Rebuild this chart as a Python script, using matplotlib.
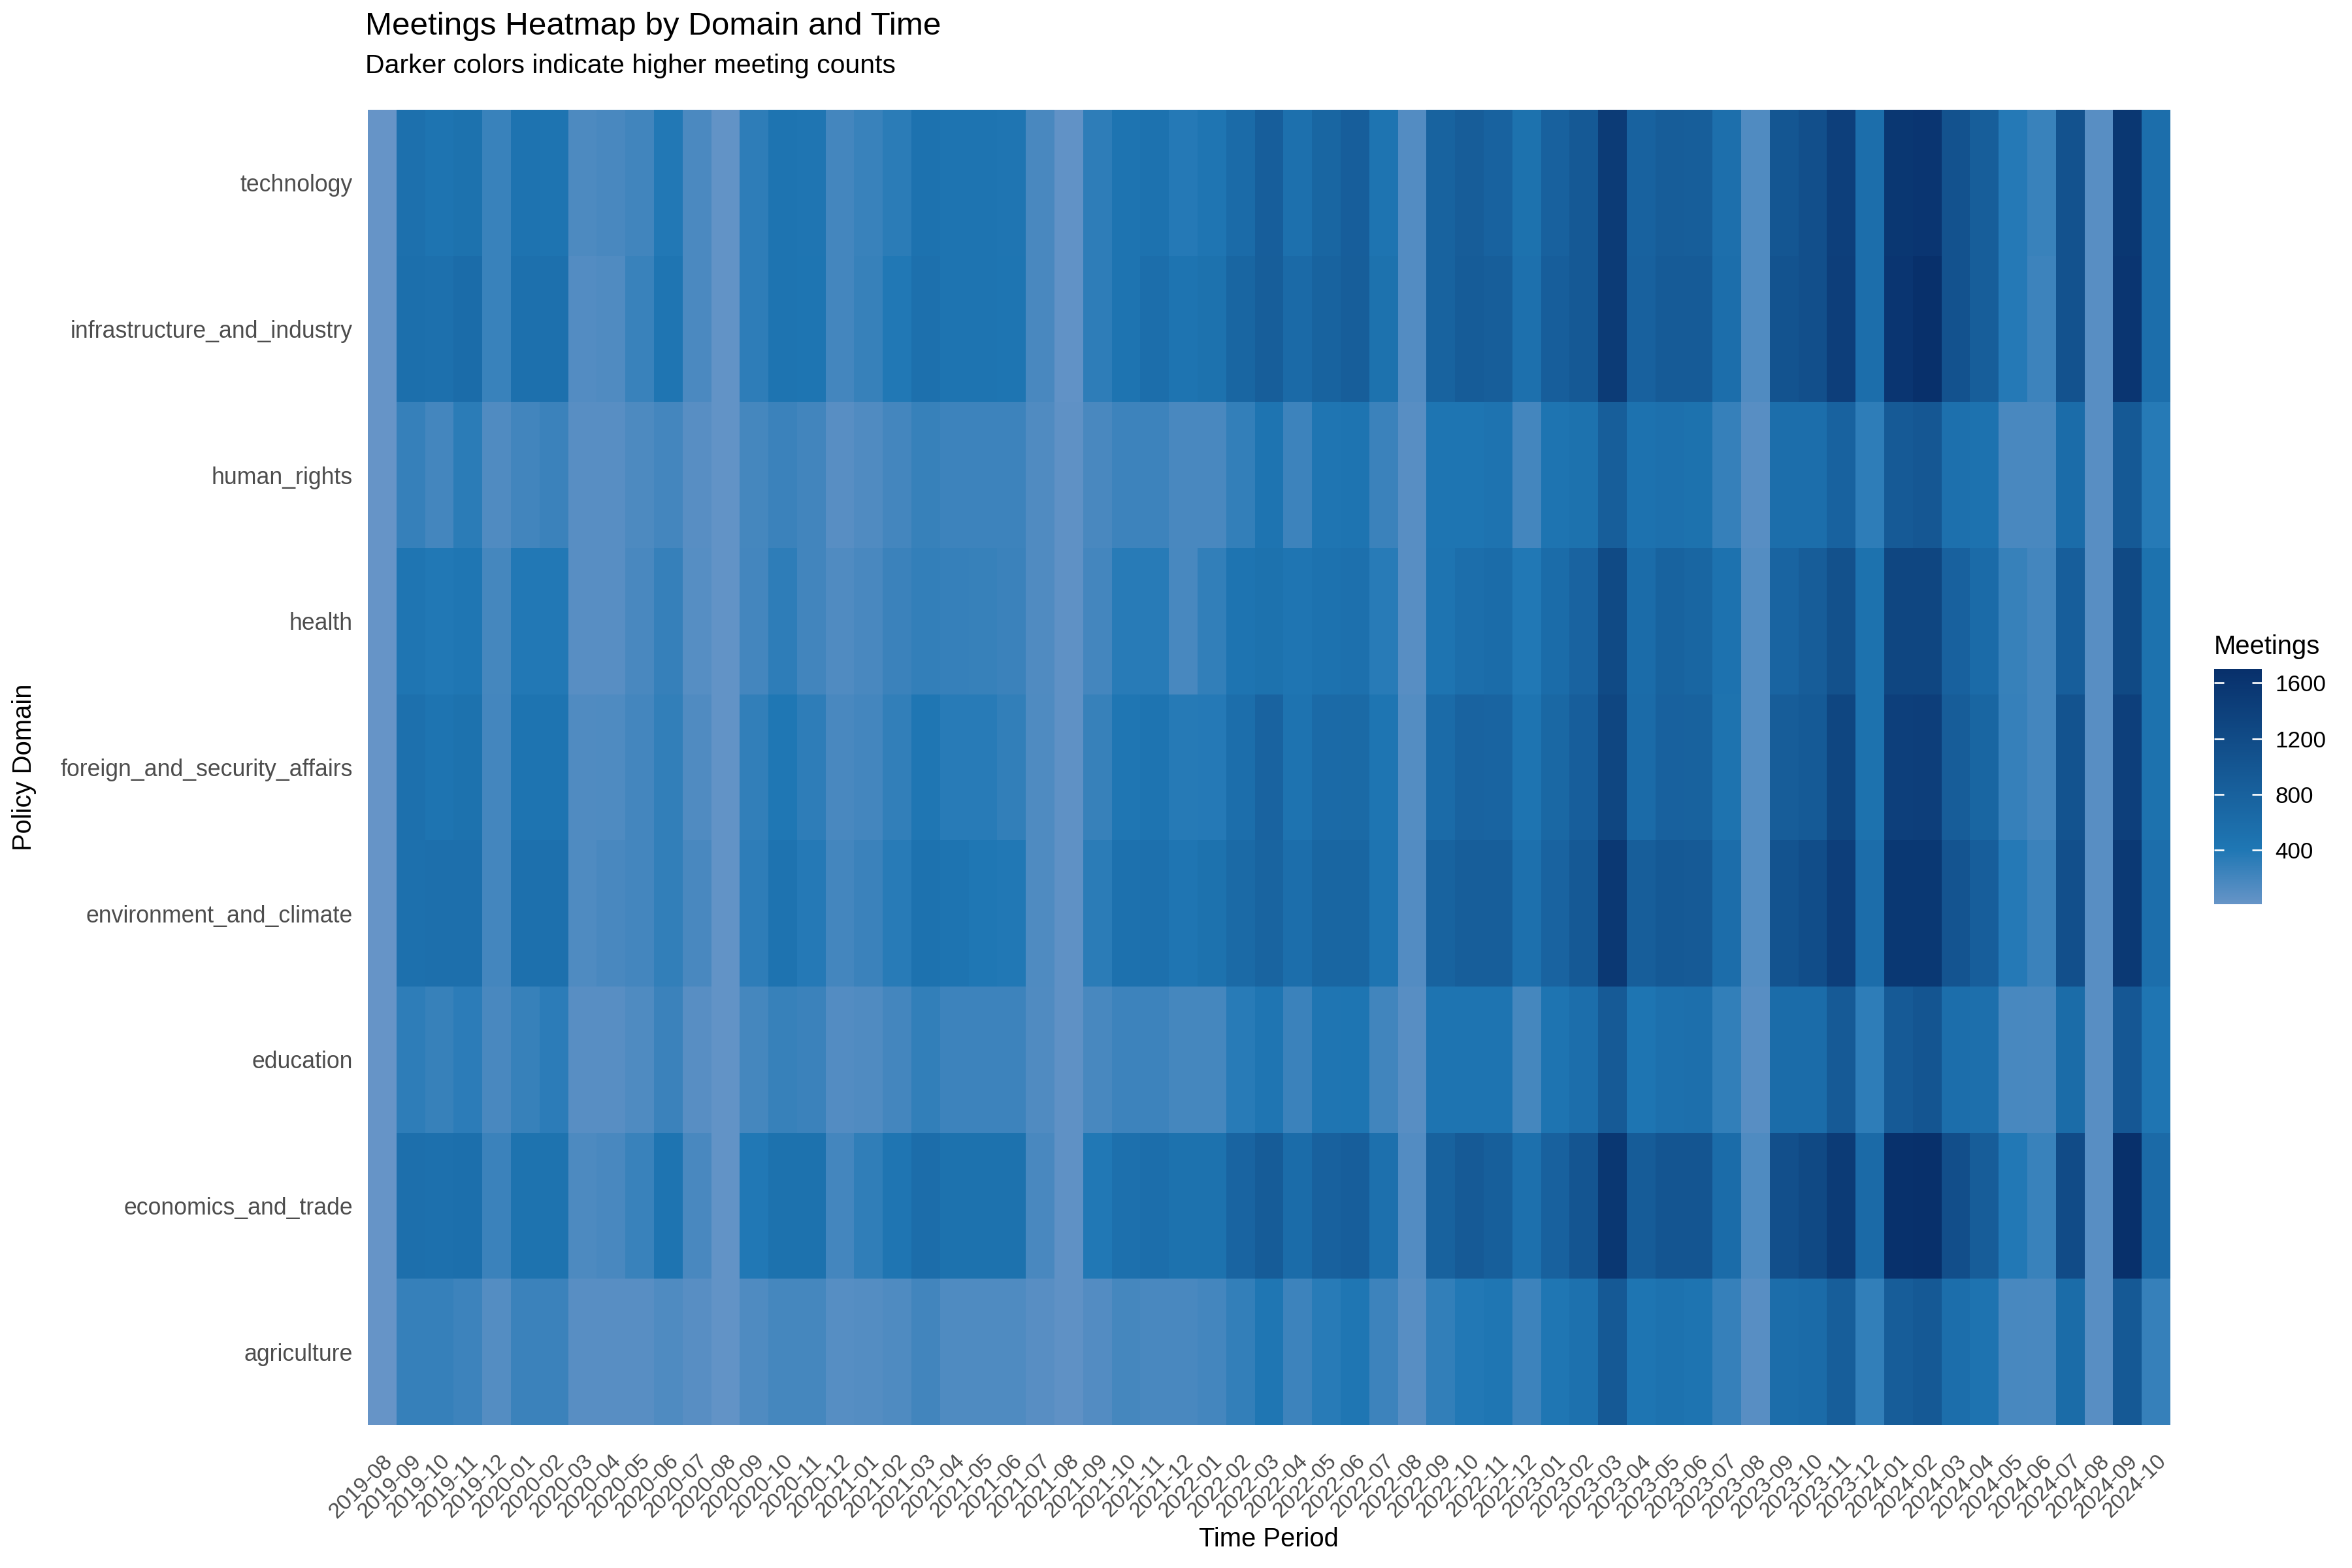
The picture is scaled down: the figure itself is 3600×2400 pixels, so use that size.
import numpy as np
import pandas as pd
import matplotlib
matplotlib.use("Agg")
import matplotlib.pyplot as plt
from matplotlib.colors import LinearSegmentedColormap, Normalize

plt.rcParams['font.family'] = ['Liberation Sans', 'DejaVu Sans']

# Zeitachse: Monate 2019-08 bis 2024-10
periods = list(pd.period_range("2019-08", "2024-10", freq="M").strftime("%Y-%m"))

# Politikbereiche (von unten nach oben)
domains = ["agriculture", "economics_and_trade", "education", "environment_and_climate",
           "foreign_and_security_affairs", "health", "human_rights",
           "infrastructure_and_industry", "technology"]

# Meetings pro Monat (aus dem Bild geschaetzt)
technology = [10, 520, 450, 500, 260, 470, 460, 150, 170, 220, 380, 160, 35, 320, 450, 430, 200, 260, 340, 490, 460,
              450, 430, 170, 40, 320, 460, 490, 370, 430, 620, 850, 520, 720, 850, 450, 120, 770, 880, 780, 500, 800,
              950, 1500, 780, 880, 860, 540, 130, 1000, 1130, 1420, 560, 1580, 1600, 1080, 860, 370, 260, 1080, 90, 1580, 570]
infrastructure = [10, 550, 530, 600, 260, 520, 520, 120, 130, 260, 430, 160, 35, 320, 460, 440, 200, 270, 390, 520, 460,
                  450, 440, 170, 40, 320, 460, 560, 450, 500, 720, 860, 640, 770, 860, 500, 120, 770, 900, 860, 520, 850,
                  950, 1500, 800, 920, 920, 560, 130, 1060, 1130, 1440, 560, 1600, 1690, 1080, 860, 370, 240, 1080, 90, 1600, 570]
human_rights = [10, 280, 200, 340, 130, 210, 250, 90, 90, 150, 200, 90, 35, 190, 250, 210, 90, 130, 200, 270, 240,
                240, 240, 130, 50, 170, 240, 240, 170, 170, 290, 450, 240, 430, 460, 250, 90, 440, 440, 470, 200, 460,
                500, 860, 490, 520, 500, 280, 90, 560, 560, 780, 320, 930, 990, 520, 490, 170, 170, 600, 90, 950, 360]
health = [10, 430, 390, 420, 190, 380, 380, 90, 90, 170, 280, 100, 35, 200, 320, 210, 130, 170, 250, 290, 280,
          270, 250, 130, 50, 200, 350, 350, 180, 300, 460, 500, 430, 490, 520, 350, 90, 460, 560, 600, 390, 600,
          760, 1230, 600, 770, 720, 490, 110, 740, 880, 1100, 500, 1300, 1300, 800, 620, 270, 200, 850, 90, 1250, 500]
foreign = [10, 530, 450, 500, 200, 460, 460, 130, 140, 200, 300, 130, 35, 300, 410, 320, 170, 200, 300, 420, 350,
           350, 300, 140, 50, 270, 420, 450, 360, 370, 570, 760, 470, 640, 650, 440, 110, 620, 760, 740, 460, 680,
           850, 1300, 620, 800, 790, 480, 110, 880, 940, 1300, 500, 1420, 1440, 880, 720, 280, 200, 1050, 90, 1420, 500]
environment = [10, 520, 540, 540, 200, 520, 520, 140, 170, 200, 300, 170, 35, 320, 470, 370, 200, 250, 350, 490, 450,
               400, 390, 140, 50, 340, 510, 520, 430, 500, 650, 750, 560, 720, 720, 450, 120, 770, 860, 860, 520, 760,
               950, 1550, 860, 950, 930, 580, 110, 1060, 1160, 1430, 580, 1560, 1560, 1040, 850, 370, 250, 1120, 90, 1540, 570]
education = [10, 320, 270, 330, 170, 270, 330, 90, 90, 140, 250, 90, 35, 190, 270, 250, 120, 130, 200, 300, 240,
             240, 240, 130, 50, 180, 240, 240, 190, 190, 350, 430, 250, 430, 440, 220, 90, 450, 460, 460, 190, 450,
             560, 930, 440, 520, 540, 300, 90, 600, 600, 930, 320, 930, 1020, 560, 540, 180, 170, 610, 90, 980, 430]
economics = [10, 540, 530, 550, 250, 480, 480, 150, 170, 260, 450, 170, 35, 390, 500, 500, 200, 310, 430, 580, 500,
             500, 500, 170, 50, 390, 520, 560, 500, 500, 740, 900, 600, 800, 850, 520, 120, 790, 930, 840, 520, 800,
             1020, 1570, 900, 1030, 1030, 600, 140, 1120, 1250, 1500, 640, 1680, 1700, 1150, 880, 380, 260, 1200, 90, 1690, 640]
agriculture = [10, 280, 280, 240, 110, 250, 250, 90, 90, 90, 140, 90, 35, 140, 190, 190, 100, 110, 140, 210, 140,
               140, 140, 90, 50, 120, 190, 170, 170, 200, 290, 420, 240, 350, 420, 240, 90, 300, 380, 420, 240, 420,
               510, 950, 440, 490, 460, 280, 90, 580, 620, 860, 300, 880, 950, 560, 470, 180, 170, 610, 90, 960, 280]

Z = np.array([agriculture, economics, education, environment, foreign,
              health, human_rights, infrastructure, technology], dtype=float)

vmin, vmax = Z.min(), Z.max()
mid = (400 - vmin) / (vmax - vmin)
cmap = LinearSegmentedColormap.from_list(
    "meet", [(0.0, "#6694c7"), (mid, "#1f77b4"), (1.0, "#08306b")])
norm = Normalize(vmin=vmin, vmax=vmax)

fig = plt.figure(figsize=(15, 10), dpi=240)
ax = fig.add_axes([563/3600, 1 - 2181/2400, (3322-563)/3600, (2181-168)/2400])

mesh = ax.pcolormesh(np.arange(len(periods) + 1) - 0.5, np.arange(len(domains) + 1) - 0.5, Z,
                     cmap=cmap, norm=norm, shading="flat", edgecolors="none")

ax.set_xlim(-0.5, len(periods) - 0.5)
ax.set_ylim(-0.5, len(domains) - 0.5)
ax.set_xticks(np.arange(len(periods)))
ax.set_xticklabels(periods, rotation=45, ha="right", va="top", rotation_mode="anchor",
                   fontsize=10, color="#4d4d4d")
ax.set_yticks(np.arange(len(domains)))
ax.set_yticklabels(domains, fontsize=10.7, color="#4d4d4d")
ax.tick_params(axis="x", length=0, pad=12)
ax.tick_params(axis="y", length=0, pad=7)
for s in ax.spines.values():
    s.set_visible(False)

# Titel und Achsenbeschriftungen
fig.text(559/3600, 1 - 53/2400, "Meetings Heatmap by Domain and Time", fontsize=14.8,
         ha="left", va="baseline")
fig.text(559/3600, 1 - 112/2400, "Darker colors indicate higher meeting counts", fontsize=12.3,
         ha="left", va="baseline")
fig.text(1942/3600, 1 - 2356/2400, "Time Period", fontsize=12, ha="center", va="center")
fig.text(37/3600, 1 - 1174/2400, "Policy Domain", fontsize=12, ha="center", va="center",
         rotation=90)

# Farbskala
cax = fig.add_axes([3389/3600, 1 - 1384/2400, 73/3600, 360/2400])
cbar = fig.colorbar(mesh, cax=cax, ticks=[400, 800, 1200, 1600])
cbar.outline.set_visible(False)
cax.tick_params(which="both", left=True, right=True, direction="in", length=4.4,
                width=0.8, color="white", labelsize=10.5, pad=6)
cax.set_title("Meetings", loc="left", fontsize=12, pad=7)

fig.savefig("out.png", dpi=240)
